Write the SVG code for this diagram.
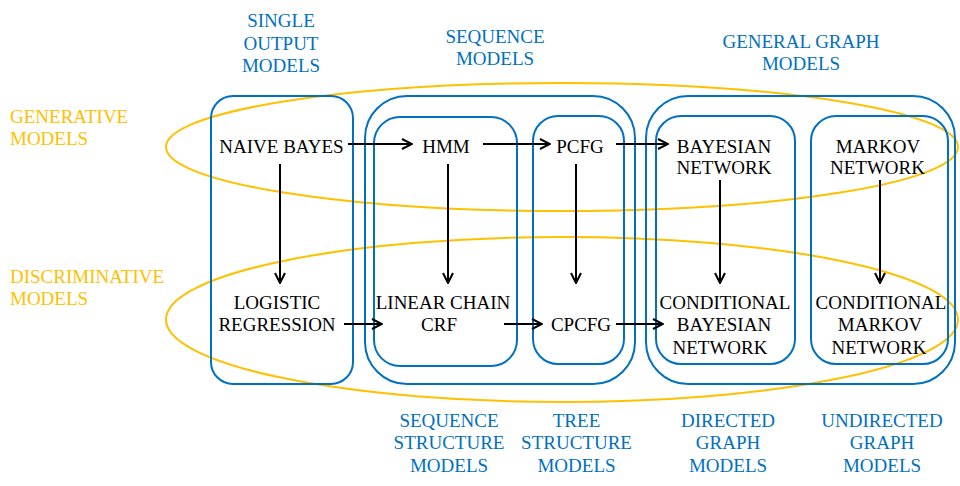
<svg xmlns="http://www.w3.org/2000/svg" width="960" height="486" viewBox="0 0 960 486">
<defs>
<style>
.t{font-size:19px;fill:#000;text-anchor:middle}
.b{fill:#0070C0}
.y{fill:#FFC000;text-anchor:start}
.box{fill:none;stroke:#0070C0;stroke-width:2}
.ell{fill:none;stroke:#FFC000;stroke-width:2}
.arr{stroke:#000;stroke-width:2;fill:none;marker-end:url(#ah)}
</style>
<marker id="ah" viewBox="0 0 12 12" refX="11" refY="6" markerWidth="12" markerHeight="12" markerUnits="userSpaceOnUse" orient="auto">
<path d="M1,1 L11,6 L1,11" fill="none" stroke="#000" stroke-width="2"/>
</marker>
</defs>
<rect width="960" height="486" fill="#fff"/>

<g id="groups">
<ellipse id="generative-ellipse" class="ell" cx="562" cy="147" rx="396" ry="64"/>
<ellipse id="discriminative-ellipse" class="ell" cx="562" cy="319.5" rx="396" ry="82.5"/>
<rect id="single-output-box" class="box" x="211" y="96" width="142" height="288" rx="22"/>
<rect id="sequence-box" class="box" x="365" y="96" width="270" height="288" rx="42"/>
<rect id="sequence-structure-box" class="box" x="374" y="117" width="143" height="249" rx="26"/>
<rect id="tree-structure-box" class="box" x="533" y="116" width="91" height="248" rx="25"/>
<rect id="general-graph-box" class="box" x="646" y="96" width="309" height="288" rx="42"/>
<rect id="directed-box" class="box" x="656" y="116" width="139" height="248" rx="25"/>
<rect id="undirected-box" class="box" x="811" y="116" width="137" height="248" rx="25"/>
</g>

<g font-family="Liberation Serif, DejaVu Serif, serif">
<g id="group-labels">
<text class="t y" x="10" y="123">GENERATIVE</text>
<text class="t y" x="10" y="145">MODELS</text>
<text class="t y" x="10" y="283">DISCRIMINATIVE</text>
<text class="t y" x="10" y="305">MODELS</text>
<text class="t b" x="281" y="27">SINGLE</text>
<text class="t b" x="281" y="49.5">OUTPUT</text>
<text class="t b" x="281" y="72">MODELS</text>
<text class="t b" x="495" y="43">SEQUENCE</text>
<text class="t b" x="495" y="65">MODELS</text>
<text class="t b" x="801" y="47.5">GENERAL GRAPH</text>
<text class="t b" x="801" y="69.5">MODELS</text>
<text class="t b" x="449" y="427">SEQUENCE</text>
<text class="t b" x="449" y="449">STRUCTURE</text>
<text class="t b" x="449" y="472">MODELS</text>
<text class="t b" x="576.5" y="427">TREE</text>
<text class="t b" x="576.5" y="449">STRUCTURE</text>
<text class="t b" x="576.5" y="472">MODELS</text>
<text class="t b" x="728" y="427">DIRECTED</text>
<text class="t b" x="728" y="449">GRAPH</text>
<text class="t b" x="728" y="472">MODELS</text>
<text class="t b" x="882" y="427">UNDIRECTED</text>
<text class="t b" x="882" y="449">GRAPH</text>
<text class="t b" x="882" y="472">MODELS</text>
</g>

<g id="naive-bayes"><text class="t" x="281.5" y="152.5">NAIVE BAYES</text></g>
<g id="hmm"><text class="t" x="446" y="152.5">HMM</text></g>
<g id="pcfg"><text class="t" x="580" y="152.5">PCFG</text></g>
<g id="bayesian-network"><text class="t" x="724" y="152.5">BAYESIAN</text><text class="t" x="724" y="174">NETWORK</text></g>
<g id="markov-network"><text class="t" x="878" y="152.5">MARKOV</text><text class="t" x="877.5" y="174">NETWORK</text></g>
<g id="logistic-regression"><text class="t" x="277" y="309">LOGISTIC</text><text class="t" x="277" y="331">REGRESSION</text></g>
<g id="linear-chain-crf"><text class="t" x="443" y="309">LINEAR CHAIN</text><text class="t" x="439" y="331">CRF</text></g>
<g id="cpcfg"><text class="t" x="581" y="331">CPCFG</text></g>
<g id="conditional-bayesian-network"><text class="t" x="725" y="309">CONDITIONAL</text><text class="t" x="724" y="331">BAYESIAN</text><text class="t" x="720" y="353.5">NETWORK</text></g>
<g id="conditional-markov-network"><text class="t" x="881" y="309">CONDITIONAL</text><text class="t" x="880" y="331">MARKOV</text><text class="t" x="879" y="353.5">NETWORK</text></g>
</g>

<g id="connectors">
<line class="arr" x1="348" y1="144" x2="412" y2="144"/>
<line class="arr" x1="483" y1="144" x2="550" y2="144"/>
<line class="arr" x1="616" y1="144" x2="668" y2="144"/>
<line class="arr" x1="344" y1="324" x2="382" y2="324"/>
<line class="arr" x1="504" y1="324" x2="542" y2="324"/>
<line class="arr" x1="616" y1="324" x2="663" y2="324"/>
<line class="arr" x1="280" y1="164" x2="280" y2="283"/>
<line class="arr" x1="448" y1="164" x2="448" y2="283"/>
<line class="arr" x1="576" y1="164" x2="576" y2="283"/>
<line class="arr" x1="720" y1="180" x2="720" y2="283"/>
<line class="arr" x1="880" y1="180" x2="880" y2="283"/>
</g>
</svg>
